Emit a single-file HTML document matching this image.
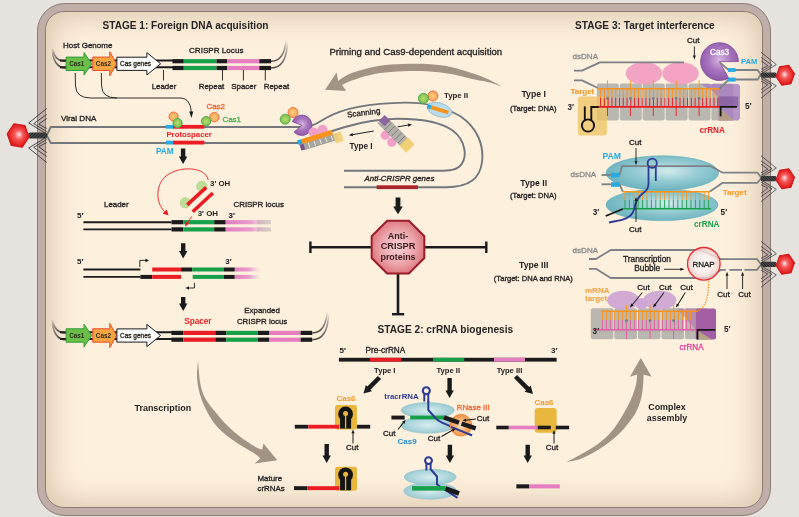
<!DOCTYPE html>
<html><head><meta charset="utf-8"><style>
html,body{margin:0;padding:0;}
body{width:799px;height:517px;overflow:hidden;background:#e6e3df;position:relative;font-family:"Liberation Sans", sans-serif;}
#wall{position:absolute;left:37.2px;top:3px;width:731.8px;height:510.5px;border:1px solid #8c7c74;border-radius:28px;background:#c0aea9;}
#cyto{position:absolute;left:45.4px;top:11px;width:715.3px;height:494.6px;border:1px solid #8c7c74;border-radius:19px;
background:#fdf0dd;
box-shadow: inset 0 0 30px 3px rgba(165,130,95,0.42);}
svg text{font-family:"Liberation Sans", sans-serif;}
</style></head><body>
<div id="wall"></div><div id="cyto"></div>
<svg width="799" height="517" viewBox="0 0 799 517" style="position:absolute;left:0;top:0;will-change:transform">
<defs>
 <radialGradient id="phHead" cx="0.5" cy="0.5" r="0.55" fx="0.55" fy="0.45">
  <stop offset="0" stop-color="#ffe6e6"/><stop offset="0.35" stop-color="#f45a5a"/><stop offset="0.8" stop-color="#e41e1e"/><stop offset="1" stop-color="#c01010"/>
 </radialGradient>
 <pattern id="hatch" width="2.2" height="2.2" patternUnits="userSpaceOnUse" patternTransform="rotate(45)">
  <rect width="2.2" height="2.2" fill="#222"/><rect width="1" height="2.2" fill="#555"/>
 </pattern>
 <radialGradient id="octG" cx="0.5" cy="0.5" r="0.6">
  <stop offset="0" stop-color="#f7d3d6"/><stop offset="0.55" stop-color="#eba4aa"/><stop offset="1" stop-color="#d9646e"/>
 </radialGradient>
 <radialGradient id="cas9G" cx="0.55" cy="0.45" r="0.6">
  <stop offset="0" stop-color="#d4ecee"/><stop offset="0.45" stop-color="#97ccd3"/><stop offset="1" stop-color="#66b0bc"/>
 </radialGradient>
 <radialGradient id="cas9S" cx="0.5" cy="0.5" r="0.6">
  <stop offset="0" stop-color="#d8edf0"/><stop offset="0.6" stop-color="#acd5db"/><stop offset="1" stop-color="#8ec3cc"/>
 </radialGradient>
 <radialGradient id="rnapG" cx="0.5" cy="0.5" r="0.5">
  <stop offset="0" stop-color="#ffffff"/><stop offset="0.6" stop-color="#fbeeee"/><stop offset="1" stop-color="#f2c4c4"/>
 </radialGradient>
 <radialGradient id="purpG" cx="0.5" cy="0.45" r="0.6">
  <stop offset="0" stop-color="#d9b6e2"/><stop offset="0.5" stop-color="#a774bd"/><stop offset="1" stop-color="#8c52a6"/>
 </radialGradient>
 <radialGradient id="rnaseG" cx="0.5" cy="0.5" r="0.55">
  <stop offset="0" stop-color="#fde8d2"/><stop offset="0.5" stop-color="#f5b273"/><stop offset="1" stop-color="#ee8d3c"/>
 </radialGradient>
 <radialGradient id="circO" cx="0.5" cy="0.5" r="0.5">
  <stop offset="0" stop-color="#f8d07a"/><stop offset="1" stop-color="#f4a45a"/>
 </radialGradient>
 <radialGradient id="circG" cx="0.5" cy="0.5" r="0.5">
  <stop offset="0" stop-color="#b9dc6e"/><stop offset="1" stop-color="#7cc04e"/>
 </radialGradient>
 <linearGradient id="fadeUp" x1="0" y1="1" x2="0" y2="0">
  <stop offset="0" stop-color="#4a4440" stop-opacity="1"/><stop offset="0.6" stop-color="#6a6460" stop-opacity="0.6"/><stop offset="1" stop-color="#9a9490" stop-opacity="0"/>
 </linearGradient>
 <linearGradient id="pinkFade" x1="0" y1="0" x2="1" y2="0">
  <stop offset="0" stop-color="#e57dc0"/><stop offset="0.55" stop-color="#ea9ccd"/><stop offset="1" stop-color="#eac4d8" stop-opacity="0"/>
 </linearGradient>
</defs>
<text x="102.5" y="29" font-size="10.1" font-weight="bold" fill="#262322" text-anchor="start" >STAGE 1: Foreign DNA acquisition</text>
<text x="63" y="47.7" font-size="8.0" font-weight="normal" fill="#262322" text-anchor="start" stroke="#262322" stroke-width="0.32" >Host Genome</text>
<text x="189" y="52.8" font-size="8.1" font-weight="normal" fill="#262322" text-anchor="start" stroke="#262322" stroke-width="0.32" >CRISPR Locus</text>
<path d="M53,48.2 Q54,61.2 66,61.2" stroke="url(#fadeUp)" stroke-width="1.6" fill="none" />
<path d="M52,47.2 Q53,68.0 66,68.0" stroke="url(#fadeUp)" stroke-width="1.6" fill="none" />
<line x1="60" y1="60.5" x2="173" y2="60.5" stroke="#1c1a1a" stroke-width="2.0" />
<line x1="60" y1="67.3" x2="173" y2="67.3" stroke="#1c1a1a" stroke-width="2.0" />
<rect x="172.5" y="59.1" width="11.300000000000011" height="4.2" fill="#1c1a1a" />
<rect x="172.5" y="65.9" width="11.300000000000011" height="4.2" fill="#1c1a1a" />
<rect x="183.8" y="59.1" width="32.69999999999999" height="4.2" fill="#17a04a" />
<rect x="183.8" y="65.9" width="32.69999999999999" height="4.2" fill="#17a04a" />
<rect x="216.5" y="59.1" width="10.800000000000011" height="4.2" fill="#1c1a1a" />
<rect x="216.5" y="65.9" width="10.800000000000011" height="4.2" fill="#1c1a1a" />
<rect x="227.3" y="59.1" width="32.0" height="4.2" fill="#e57dc0" />
<rect x="227.3" y="65.9" width="32.0" height="4.2" fill="#e57dc0" />
<rect x="259.3" y="59.1" width="11.699999999999989" height="4.2" fill="#1c1a1a" />
<rect x="259.3" y="65.9" width="11.699999999999989" height="4.2" fill="#1c1a1a" />
<path d="M271,61.2 C279,61.2 285,56.2 286,39.2" stroke="url(#fadeUp)" stroke-width="1.5" fill="none" />
<path d="M271,68.0 C280,68.0 287,61.0 287.5,41.0" stroke="url(#fadeUp)" stroke-width="1.5" fill="none" />
<polygon points="66.1,57.099999999999994 84.0,57.099999999999994 84.0,52.5 91.8,63.8 84.0,75.1 84.0,70.5 66.1,70.5" fill="#6bbf47" stroke="#2e9b3c" stroke-width="1.0" stroke-linejoin="miter"/>
<text x="69.2" y="65.89999999999999" font-size="6.3" font-weight="bold" fill="#2b2a1e" text-anchor="start" >Cas1</text>
<polygon points="92.8,57.099999999999994 109.8,57.099999999999994 109.8,51.8 116.6,63.8 109.8,75.8 109.8,70.5 92.8,70.5" fill="#f6a53f" stroke="#ec4a2c" stroke-width="1.0" stroke-linejoin="miter"/>
<text x="95.8" y="65.89999999999999" font-size="6.4" font-weight="bold" fill="#2b2a1e" text-anchor="start" >Cas2</text>
<polygon points="116.9,57.199999999999996 146.9,57.199999999999996 146.9,52.65 160.6,63.8 146.9,74.95 146.9,70.39999999999999 116.9,70.39999999999999" fill="#ffffff" stroke="#1a1a1a" stroke-width="1.0" stroke-linejoin="miter"/>
<text x="120.0" y="65.89999999999999" font-size="6.5" font-weight="normal" fill="#2b2a1e" text-anchor="start" stroke="#2b2a1e" stroke-width="0.32" >Cas genes</text>
<line x1="163.5" y1="70" x2="163.5" y2="80.5" stroke="#1c1a1a" stroke-width="0.9" />
<line x1="222.5" y1="70" x2="222.5" y2="80.5" stroke="#1c1a1a" stroke-width="0.9" />
<line x1="243.4" y1="70" x2="243.4" y2="80.5" stroke="#1c1a1a" stroke-width="0.9" />
<line x1="265.3" y1="70" x2="265.3" y2="80.5" stroke="#1c1a1a" stroke-width="0.9" />
<text x="164" y="88.8" font-size="7.9" font-weight="normal" fill="#262322" text-anchor="middle" stroke="#262322" stroke-width="0.32" >Leader</text>
<text x="211.5" y="88.8" font-size="7.9" font-weight="normal" fill="#262322" text-anchor="middle" stroke="#262322" stroke-width="0.32" >Repeat</text>
<text x="243.8" y="88.8" font-size="7.9" font-weight="normal" fill="#262322" text-anchor="middle" stroke="#262322" stroke-width="0.32" >Spacer</text>
<text x="276.5" y="88.8" font-size="7.9" font-weight="normal" fill="#262322" text-anchor="middle" stroke="#262322" stroke-width="0.32" >Repeat</text>
<path d="M75.2,73 L75.5,86 Q76,98 91,98 L181,98 Q190.5,98.5 191.3,112" stroke="#1a1a1a" stroke-width="0.9" fill="none" />
<path d="M101.3,73 L101.6,86 Q102,98 117,98" stroke="#1a1a1a" stroke-width="0.9" fill="none" />
<polygon points="189.3,111.5 193.3,111.5 191.4,118" fill="#1a1a1a" stroke="none" stroke-width="1" />
<text x="61" y="121" font-size="8.1" font-weight="normal" fill="#262322" text-anchor="start" stroke="#262322" stroke-width="0.32" >Viral DNA</text>
<path d="M46.7,135.4 L50.8,127 L300,127 C312,127 316,124 326,118 C345,107 372,103 405,102.6 C428,102.4 446,108 460,116 C478,128 484,146 482,162 C480,178 470,187 446,187.3 L344,187.3" stroke="#73777c" stroke-width="1.9" fill="none" stroke-linejoin="round"/>
<path d="M46.7,135.4 L50.8,143 L297,143 C318,137 330,131 345,127 C365,121 380,119 398,118.8 C420,118.8 440,122 452,130 C466,140 468,158 460,166 C455,170.8 448,170.8 430,170.8 L344,170.8" stroke="#73777c" stroke-width="1.9" fill="none" stroke-linejoin="round"/>
<rect x="165.8" y="124.89999999999999" width="7.2" height="3.8" fill="#27aae1" />
<rect x="173" y="124.89999999999999" width="31.4" height="3.8" fill="#ec1c24" />
<rect x="165.8" y="140.7" width="7.2" height="3.8" fill="#27aae1" />
<rect x="173" y="140.7" width="31.4" height="3.8" fill="#ec1c24" />
<text x="166.4" y="136.5" font-size="7.8" font-weight="bold" fill="#ec1c24" text-anchor="start" >Protospacer</text>
<text x="156" y="153.6" font-size="8.2" font-weight="bold" fill="#27aae1" text-anchor="start" >PAM</text>
<circle cx="173.6" cy="116.6" r="4.6" fill="url(#circO)" stroke="#ef6a3a" stroke-width="0.9" />
<circle cx="177.6" cy="123.0" r="4.6" fill="url(#circG)" stroke="#45a94a" stroke-width="0.9" />
<circle cx="214.4" cy="117.2" r="4.7" fill="url(#circO)" stroke="#ef6a3a" stroke-width="0.9" />
<circle cx="206.1" cy="121.2" r="4.7" fill="url(#circG)" stroke="#45a94a" stroke-width="0.9" />
<text x="206.4" y="109" font-size="8.0" font-weight="normal" fill="#f0643c" text-anchor="start" stroke="#f0643c" stroke-width="0.32" >Cas2</text>
<text x="222.4" y="122.4" font-size="8.0" font-weight="normal" fill="#4cb04c" text-anchor="start" stroke="#4cb04c" stroke-width="0.32" >Cas1</text>
<circle cx="293" cy="112.5" r="5" fill="url(#circO)" stroke="#ef6a3a" stroke-width="0.9" />
<circle cx="285.2" cy="119.2" r="5" fill="url(#circG)" stroke="#45a94a" stroke-width="0.9" />
<rect x="376.7" y="185.3" width="41.2" height="3.8" fill="#a8262c" />
<text x="364.6" y="181" font-size="7.9" font-weight="normal" fill="#262322" text-anchor="start" font-style="italic" stroke="#262322" stroke-width="0.32" >Anti-CRISPR genes</text>
<path d="M325,89.8 L336.6,72.4 L338.2,80.9 C339.55,80.00 342.88,77.18 346.30,75.50 C349.72,73.82 353.08,72.42 358.70,70.80 C364.32,69.18 372.62,66.93 380.00,65.80 C387.38,64.67 395.17,64.30 403.00,64.00 C410.83,63.70 419.03,63.52 427.00,64.00 C434.97,64.48 442.87,65.23 450.80,66.90 C458.73,68.57 468.07,71.82 474.60,74.00 C481.13,76.18 485.27,77.78 490.00,80.00 C494.73,82.22 500.83,86.08 503.00,87.30 C500.83,86.52 494.73,83.88 490.00,82.60 C485.27,81.32 481.13,81.03 474.60,79.60 C468.07,78.17 458.73,75.40 450.80,74.00 C442.87,72.60 434.97,71.67 427.00,71.20 C419.03,70.73 410.83,70.88 403.00,71.20 C395.17,71.52 387.38,71.93 380.00,73.10 C372.62,74.27 364.20,76.65 358.70,78.20 C353.20,79.75 349.78,81.25 347.00,82.40 C344.22,83.55 342.83,84.65 342.00,85.10 L346.3,91 Z" stroke="none" stroke-width="0" fill="#a29385" />
<text x="329.4" y="54.6" font-size="9.6" font-weight="normal" fill="#262322" text-anchor="start" stroke="#262322" stroke-width="0.32" >Priming and Cas9-dependent acquisition</text>
<path d="M301.80,125.30 L292.28,121.64 A10.2,10.2 0 1 1 294.10,131.99 Z" stroke="#7d4a96" stroke-width="0.8" fill="url(#purpG)" />
<circle cx="313.5" cy="132.5" r="5" fill="#f0a0c8" stroke="none" stroke-width="1" />
<circle cx="322.5" cy="130" r="5.2" fill="#f0a0c8" stroke="none" stroke-width="1" />
<g transform="translate(302,142.5) rotate(-17)"><rect x="0" y="1.5" width="36" height="6" fill="#a9a7a2" stroke="#8a8680" stroke-width="0.5"/><line x1="6.0" y1="2" x2="6.0" y2="7" stroke="#eeeeea" stroke-width="0.8"/><line x1="12.0" y1="2" x2="12.0" y2="7" stroke="#eeeeea" stroke-width="0.8"/><line x1="18.0" y1="2" x2="18.0" y2="7" stroke="#eeeeea" stroke-width="0.8"/><line x1="24.0" y1="2" x2="24.0" y2="7" stroke="#eeeeea" stroke-width="0.8"/><line x1="30.0" y1="2" x2="30.0" y2="7" stroke="#eeeeea" stroke-width="0.8"/><rect x="0" y="-3.5" width="32" height="5" fill="#f7941d"/><rect x="-4" y="-3.5" width="4" height="5" fill="#27aae1"/><rect x="-3" y="1.5" width="4" height="6" fill="#7a4e8e"/><rect x="32" y="0.6" width="8.5" height="10.2" rx="1" fill="#f0d07a" opacity="0.92"/></g>
<circle cx="385.3" cy="135.2" r="4.6" fill="#f0a0c8" stroke="none" stroke-width="1" />
<circle cx="391.8" cy="142.2" r="4.6" fill="#f0a0c8" stroke="none" stroke-width="1" />
<g transform="translate(381.5,119.5) rotate(45)"><rect x="0" y="-5.2" width="33" height="10.4" fill="#b3b0aa" stroke="#8a8680" stroke-width="0.4"/><line x1="4.714285714285714" y1="-5" x2="4.714285714285714" y2="5" stroke="#6e6a66" stroke-width="0.7"/><line x1="9.428571428571429" y1="-5" x2="9.428571428571429" y2="5" stroke="#6e6a66" stroke-width="0.7"/><line x1="14.142857142857142" y1="-5" x2="14.142857142857142" y2="5" stroke="#6e6a66" stroke-width="0.7"/><line x1="18.857142857142858" y1="-5" x2="18.857142857142858" y2="5" stroke="#6e6a66" stroke-width="0.7"/><line x1="23.571428571428573" y1="-5" x2="23.571428571428573" y2="5" stroke="#6e6a66" stroke-width="0.7"/><line x1="28.285714285714285" y1="-5" x2="28.285714285714285" y2="5" stroke="#6e6a66" stroke-width="0.7"/><rect x="-1" y="-5.4" width="8" height="8" fill="#8a5ea0" opacity="0.9"/><rect x="31" y="-6" width="10" height="12" rx="1" fill="#f0cf70" opacity="0.95"/></g>
<text x="347.5" y="117.4" font-size="8.0" font-weight="normal" fill="#262322" text-anchor="start" stroke="#262322" stroke-width="0.32" transform="rotate(-7 347.5 117.4)">Scanning</text>
<g transform="translate(373.8,131) rotate(170.24)"><line x1="0" y1="0" x2="21.867104683033894" y2="0" stroke="#1a1a1a" stroke-width="0.9"/><polygon points="21.367104683033894,-1.6 25.367104683033894,0 21.367104683033894,1.6" fill="#1a1a1a"/></g>
<g transform="translate(397.6,126.9) rotate(-9.85)"><line x1="0" y1="0" x2="11.11540283399672" y2="0" stroke="#1a1a1a" stroke-width="0.9"/><polygon points="10.61540283399672,-1.6 14.61540283399672,0 10.61540283399672,1.6" fill="#1a1a1a"/></g>
<text x="349.5" y="149" font-size="8.2" font-weight="bold" fill="#262322" text-anchor="start" >Type I</text>
<g transform="translate(439.5,109.8) rotate(17)"><ellipse cx="0" cy="0" rx="12.8" ry="6.8" fill="#b8dcea" stroke="#8fb8cc" stroke-width="0.8"/><rect x="-9.2" y="-1.9" width="18.5" height="3.8" fill="#f7941d"/><rect x="-12.5" y="-2.1" width="3.4" height="4.2" fill="#27aae1"/></g>
<circle cx="432.9" cy="96" r="5.0" fill="url(#circO)" stroke="#ef6a3a" stroke-width="0.9" />
<circle cx="423.4" cy="98.4" r="5.0" fill="url(#circG)" stroke="#45a94a" stroke-width="0.9" />
<text x="444" y="97.6" font-size="7.8" font-weight="bold" fill="#262322" text-anchor="start" >Type II</text>
<polygon points="180.9,148.4 185.29999999999998,148.4 185.29999999999998,156.5 187.29999999999998,156.5 183.1,164.1 178.9,156.5 180.9,156.5" fill="#1a1a1a" stroke="none" stroke-width="1" />
<text x="104" y="206.8" font-size="7.9" font-weight="normal" fill="#262322" text-anchor="start" stroke="#262322" stroke-width="0.32" >Leader</text>
<text x="233.5" y="206.8" font-size="7.9" font-weight="normal" fill="#262322" text-anchor="start" stroke="#262322" stroke-width="0.32" >CRISPR locus</text>
<text x="77" y="217.8" font-size="8" font-weight="bold" fill="#262322" text-anchor="start" >5′</text>
<text x="228.5" y="217.8" font-size="8" font-weight="bold" fill="#262322" text-anchor="start" >3′</text>
<line x1="83.4" y1="222.2" x2="171.5" y2="222.2" stroke="#1c1a1a" stroke-width="1.9" />
<line x1="83.4" y1="229.4" x2="171.5" y2="229.4" stroke="#1c1a1a" stroke-width="1.9" />
<rect x="171.5" y="220.1" width="11.800000000000011" height="4.2" fill="#1c1a1a" />
<rect x="171.5" y="227.3" width="11.800000000000011" height="4.2" fill="#1c1a1a" />
<rect x="183.3" y="220.1" width="30.899999999999977" height="4.2" fill="#17a04a" />
<rect x="183.3" y="227.3" width="30.899999999999977" height="4.2" fill="#17a04a" />
<rect x="214.2" y="220.1" width="11.5" height="4.2" fill="#1c1a1a" />
<rect x="214.2" y="227.3" width="11.5" height="4.2" fill="#1c1a1a" />
<rect x="225.7" y="220.1" width="45" height="4.2" fill="url(#pinkFade)" />
<rect x="257" y="220.1" width="14" height="4.2" fill="#9a8f92" opacity="0.35"/>
<rect x="225.7" y="227.3" width="45" height="4.2" fill="url(#pinkFade)" />
<rect x="257" y="227.3" width="14" height="4.2" fill="#9a8f92" opacity="0.35"/>
<circle cx="185.3" cy="202.7" r="5.2" fill="#bedd96" stroke="#a9cc80" stroke-width="0.6" />
<circle cx="201.8" cy="186.4" r="5.2" fill="#bedd96" stroke="#a9cc80" stroke-width="0.6" />
<line x1="187.2" y1="204.8" x2="206.2" y2="187.4" stroke="#ec1c24" stroke-width="3.6" />
<line x1="192.7" y1="211.8" x2="212.9" y2="193.0" stroke="#ec1c24" stroke-width="3.6" />
<text x="210" y="186.2" font-size="7.9" font-weight="bold" fill="#262322" text-anchor="start" >3′ OH</text>
<text x="197.7" y="216.4" font-size="7.9" font-weight="bold" fill="#262322" text-anchor="start" >3′ OH</text>
<path d="M208.2,180 C206,167 180,165 166,176 C156,184 155,202 164.5,211.5" stroke="#ec1c24" stroke-width="0.9" fill="none" />
<polygon points="162.6,213.6 166.8,209.4 168.6,215.4" fill="#ec1c24" stroke="none" stroke-width="1" />
<path d="M191.8,216.4 L187.2,223.4" stroke="#ec1c24" stroke-width="0.9" fill="none" />
<polygon points="185.2,221.5 189.2,223.5 185.2,226.6" fill="#ec1c24" stroke="none" stroke-width="1" />
<polygon points="181.0,243.3 185.39999999999998,243.3 185.39999999999998,250.9 187.39999999999998,250.9 183.2,258.5 179.0,250.9 181.0,250.9" fill="#1a1a1a" stroke="none" stroke-width="1" />
<text x="77" y="263.9" font-size="8" font-weight="bold" fill="#262322" text-anchor="start" >5′</text>
<text x="225.2" y="263.9" font-size="8" font-weight="bold" fill="#262322" text-anchor="start" >3′</text>
<line x1="83.4" y1="269.5" x2="140.4" y2="269.5" stroke="#1c1a1a" stroke-width="1.9" />
<line x1="83.4" y1="276.9" x2="140.4" y2="276.9" stroke="#1c1a1a" stroke-width="1.9" />
<rect x="152.2" y="267.5" width="28.900000000000006" height="4.0" fill="#ec1c24" />
<rect x="181.1" y="267.5" width="11.099999999999994" height="4.0" fill="#1c1a1a" />
<rect x="192.2" y="267.5" width="31.600000000000023" height="4.0" fill="#17a04a" />
<rect x="223.8" y="267.5" width="11.0" height="4.0" fill="#1c1a1a" />
<rect x="140.4" y="274.9" width="11.799999999999983" height="4.0" fill="#1c1a1a" />
<rect x="152.2" y="274.9" width="28.900000000000006" height="4.0" fill="#ec1c24" />
<rect x="192.7" y="274.9" width="31.100000000000023" height="4.0" fill="#17a04a" />
<rect x="223.8" y="274.9" width="11.0" height="4.0" fill="#1c1a1a" />
<rect x="234.8" y="267.5" width="26" height="4.0" fill="url(#pinkFade)" />
<rect x="234.8" y="274.9" width="26" height="4.0" fill="url(#pinkFade)" />
<path d="M139.8,267 L139.8,260.4 L146,260.4" stroke="#1a1a1a" stroke-width="0.9" fill="none" />
<polygon points="145.5,258.6 149,260.4 145.5,262.2" fill="#1a1a1a" stroke="none" stroke-width="1" />
<path d="M194.4,282.8 L194.4,288 L188.5,288" stroke="#1a1a1a" stroke-width="0.9" fill="none" />
<polygon points="189,286.2 185.5,288 189,289.8" fill="#1a1a1a" stroke="none" stroke-width="1" />
<polygon points="181.0,297 185.39999999999998,297 185.39999999999998,303.4 187.39999999999998,303.4 183.2,311 179.0,303.4 181.0,303.4" fill="#1a1a1a" stroke="none" stroke-width="1" />
<path d="M53,319.9 Q54,332.9 66,332.9" stroke="url(#fadeUp)" stroke-width="1.6" fill="none" />
<path d="M52,318.9 Q53,339.7 66,339.7" stroke="url(#fadeUp)" stroke-width="1.6" fill="none" />
<line x1="60" y1="332.2" x2="173" y2="332.2" stroke="#1c1a1a" stroke-width="2.0" />
<line x1="60" y1="339.0" x2="173" y2="339.0" stroke="#1c1a1a" stroke-width="2.0" />
<rect x="171.4" y="330.79999999999995" width="12.0" height="4.2" fill="#1c1a1a" />
<rect x="171.4" y="337.59999999999997" width="12.0" height="4.2" fill="#1c1a1a" />
<rect x="183.4" y="330.79999999999995" width="31.900000000000006" height="4.2" fill="#ec1c24" />
<rect x="183.4" y="337.59999999999997" width="31.900000000000006" height="4.2" fill="#ec1c24" />
<rect x="215.3" y="330.79999999999995" width="10.899999999999977" height="4.2" fill="#1c1a1a" />
<rect x="215.3" y="337.59999999999997" width="10.899999999999977" height="4.2" fill="#1c1a1a" />
<rect x="226.2" y="330.79999999999995" width="31.600000000000023" height="4.2" fill="#17a04a" />
<rect x="226.2" y="337.59999999999997" width="31.600000000000023" height="4.2" fill="#17a04a" />
<rect x="257.8" y="330.79999999999995" width="11.599999999999966" height="4.2" fill="#1c1a1a" />
<rect x="257.8" y="337.59999999999997" width="11.599999999999966" height="4.2" fill="#1c1a1a" />
<rect x="269.4" y="330.79999999999995" width="31.200000000000045" height="4.2" fill="#e57dc0" />
<rect x="269.4" y="337.59999999999997" width="31.200000000000045" height="4.2" fill="#e57dc0" />
<rect x="300.6" y="330.79999999999995" width="11.599999999999966" height="4.2" fill="#1c1a1a" />
<rect x="300.6" y="337.59999999999997" width="11.599999999999966" height="4.2" fill="#1c1a1a" />
<path d="M312.2,332.9 C320.2,332.9 326.2,327.9 327.2,310.9" stroke="url(#fadeUp)" stroke-width="1.5" fill="none" />
<path d="M312.2,339.7 C321.2,339.7 328.2,332.7 328.7,312.7" stroke="url(#fadeUp)" stroke-width="1.5" fill="none" />
<polygon points="66.1,328.8 84.0,328.8 84.0,324.2 91.8,335.5 84.0,346.8 84.0,342.2 66.1,342.2" fill="#6bbf47" stroke="#2e9b3c" stroke-width="1.0" stroke-linejoin="miter"/>
<text x="69.2" y="337.6" font-size="6.3" font-weight="bold" fill="#2b2a1e" text-anchor="start" >Cas1</text>
<polygon points="92.8,328.8 109.8,328.8 109.8,323.5 116.6,335.5 109.8,347.5 109.8,342.2 92.8,342.2" fill="#f6a53f" stroke="#ec4a2c" stroke-width="1.0" stroke-linejoin="miter"/>
<text x="95.8" y="337.6" font-size="6.4" font-weight="bold" fill="#2b2a1e" text-anchor="start" >Cas2</text>
<polygon points="116.9,328.9 146.9,328.9 146.9,324.35 160.6,335.5 146.9,346.65 146.9,342.1 116.9,342.1" fill="#ffffff" stroke="#1a1a1a" stroke-width="1.0" stroke-linejoin="miter"/>
<text x="120.0" y="337.6" font-size="6.5" font-weight="normal" fill="#2b2a1e" text-anchor="start" stroke="#2b2a1e" stroke-width="0.32" >Cas genes</text>
<text x="197.9" y="323.6" font-size="8.2" font-weight="bold" fill="#ec1c24" text-anchor="middle" >Spacer</text>
<text x="262.1" y="312.7" font-size="7.9" font-weight="normal" fill="#262322" text-anchor="middle" stroke="#262322" stroke-width="0.32" >Expanded</text>
<text x="262.1" y="323.6" font-size="7.9" font-weight="normal" fill="#262322" text-anchor="middle" stroke="#262322" stroke-width="0.32" >CRISPR locus</text>
<path d="M198.1,360.8 C198.22,362.33 198.53,366.80 198.80,370.00 C199.07,373.20 199.20,376.67 199.70,380.00 C200.20,383.33 200.87,386.92 201.80,390.00 C202.73,393.08 203.83,395.80 205.30,398.50 C206.77,401.20 208.65,403.62 210.60,406.20 C212.55,408.78 214.68,411.23 217.00,414.00 C219.32,416.77 221.67,419.83 224.50,422.80 C227.33,425.77 230.53,428.83 234.00,431.80 C237.47,434.77 241.53,437.97 245.30,440.60 C249.07,443.23 253.78,446.08 256.60,447.60 C259.42,449.12 261.27,449.35 262.20,449.70 L263.5,443.4 L277.3,460.3 L254.7,463.5 L260.3,458.5 C259.47,457.75 258.23,456.00 255.30,454.00 C252.37,452.00 246.88,449.12 242.70,446.50 C238.52,443.88 234.07,441.17 230.20,438.30 C226.33,435.43 222.57,432.38 219.50,429.30 C216.43,426.22 214.05,423.10 211.80,419.80 C209.55,416.50 207.70,412.88 206.00,409.50 C204.30,406.12 202.83,402.92 201.60,399.50 C200.37,396.08 199.35,392.50 198.60,389.00 C197.85,385.50 197.32,381.92 197.10,378.50 C196.88,375.08 197.13,371.45 197.30,368.50 C197.47,365.55 197.97,362.08 198.10,360.80 Z" stroke="none" stroke-width="0" fill="#a29385" />
<text x="134.5" y="410.7" font-size="8.95" font-weight="bold" fill="#262322" text-anchor="start" >Transcription</text>
<polygon points="395.6,197.6 400.4,197.6 400.4,206.5 402.8,206.5 398,214.3 393.2,206.5 395.6,206.5" fill="#1a1a1a" stroke="none" stroke-width="1" />
<line x1="310" y1="247.2" x2="371" y2="247.2" stroke="#1a1a1a" stroke-width="2.6" />
<line x1="425" y1="247.2" x2="486.7" y2="247.2" stroke="#1a1a1a" stroke-width="2.6" />
<line x1="310.4" y1="241.5" x2="310.4" y2="253" stroke="#1a1a1a" stroke-width="2.4" />
<line x1="486.3" y1="241.5" x2="486.3" y2="253" stroke="#1a1a1a" stroke-width="2.4" />
<line x1="398" y1="273" x2="398" y2="314" stroke="#1a1a1a" stroke-width="2.6" />
<line x1="392" y1="314.2" x2="404.2" y2="314.2" stroke="#1a1a1a" stroke-width="2.4" />
<polygon points="424.33056667657166,258.00647782240503 408.90647782240507,273.4305666765717 387.09352217759493,273.4305666765717 371.66943332342834,258.00647782240503 371.66943332342834,236.19352217759493 387.09352217759493,220.76943332342833 408.90647782240507,220.76943332342833 424.33056667657166,236.19352217759493" fill="url(#octG)" stroke="#9a1e2a" stroke-width="2.0" />
<text x="398" y="238.8" font-size="9.0" font-weight="bold" fill="#3a1a1c" text-anchor="middle" >Anti-</text>
<text x="398" y="248.9" font-size="9.2" font-weight="bold" fill="#3a1a1c" text-anchor="middle" >CRISPR</text>
<text x="398" y="259.6" font-size="8.9" font-weight="bold" fill="#3a1a1c" text-anchor="middle" >proteins</text>
<text x="377.6" y="333.4" font-size="10.15" font-weight="bold" fill="#262322" text-anchor="start" >STAGE 2: crRNA biogenesis</text>
<rect x="338.9" y="357.8" width="217.7" height="3.8" fill="#1c1a1a" />
<rect x="369.8" y="357.8" width="31.6" height="3.8" fill="#ec1c24" />
<rect x="433.0" y="357.8" width="31.2" height="3.8" fill="#17a04a" />
<rect x="494.0" y="357.8" width="31.0" height="3.8" fill="#e57dc0" />
<text x="339.5" y="353" font-size="8" font-weight="bold" fill="#262322" text-anchor="start" >5′</text>
<text x="551" y="353" font-size="8" font-weight="bold" fill="#262322" text-anchor="start" >3′</text>
<text x="365.6" y="353" font-size="8.2" font-weight="normal" fill="#262322" text-anchor="start" stroke="#262322" stroke-width="0.32" >Pre-crRNA</text>
<text x="384.8" y="372.8" font-size="7.6" font-weight="bold" fill="#262322" text-anchor="middle" >Type I</text>
<text x="448.3" y="372.8" font-size="7.6" font-weight="bold" fill="#262322" text-anchor="middle" >Type II</text>
<text x="509.5" y="372.8" font-size="7.6" font-weight="bold" fill="#262322" text-anchor="middle" >Type III</text>
<polygon points="0.00,-2.20 15.03,-2.20 15.03,-4.30 22.63,0.00 15.03,4.30 15.03,2.20 0.00,2.20" fill="#1a1a1a" transform="translate(379.5,377.5) rotate(135.00)"/>
<polygon points="447.40000000000003,378 451.8,378 451.8,390.4 453.8,390.4 449.6,398 445.40000000000003,390.4 447.40000000000003,390.4" fill="#1a1a1a" stroke="none" stroke-width="1" />
<polygon points="0.00,-2.20 17.15,-2.20 17.15,-4.30 24.75,0.00 17.15,4.30 17.15,2.20 0.00,2.20" fill="#1a1a1a" transform="translate(515.5,376.5) rotate(45.00)"/>
<text x="346" y="401.4" font-size="8.0" font-weight="bold" fill="#f09a2a" text-anchor="middle" >Cas6</text>
<rect x="335" y="405" width="22" height="24.5" fill="#e9b73e" rx="2.5"/>
<rect x="294.8" y="424.8" width="13.5" height="3.8" fill="#1c1a1a" />
<rect x="308.3" y="424.8" width="31" height="3.8" fill="#ec1c24" />
<rect x="357" y="424.8" width="13.2" height="3.8" fill="#1c1a1a" />
<circle cx="345.6" cy="414" r="7.4" fill="#141414" stroke="none" stroke-width="1" />
<rect x="340.1" y="414" width="11" height="14.600000000000023" fill="#141414" />
<circle cx="345.6" cy="413.5" r="2.5" fill="#e9b73e" stroke="none" stroke-width="1" />
<rect x="344.95000000000005" y="414" width="1.3" height="14.400000000000023" fill="#e9b73e" />
<text x="352.3" y="450.4" font-size="8.0" font-weight="normal" fill="#262322" text-anchor="middle" stroke="#262322" stroke-width="0.32" >Cut</text>
<g transform="translate(353,443.5) rotate(-90.00)"><line x1="0" y1="0" x2="10.7" y2="0" stroke="#1a1a1a" stroke-width="1.0"/><polygon points="10.2,-1.6 14.0,0 10.2,1.6" fill="#1a1a1a"/></g>
<polygon points="324.5,444 328.9,444 328.9,455.4 330.9,455.4 326.7,463 322.5,455.4 324.5,455.4" fill="#1a1a1a" stroke="none" stroke-width="1" />
<rect x="335" y="466.8" width="22" height="24" fill="#e9b73e" rx="2.5"/>
<rect x="294" y="486.2" width="13.3" height="3.9" fill="#1c1a1a" />
<rect x="307.3" y="486.2" width="32" height="3.9" fill="#ec1c24" />
<circle cx="345.6" cy="474.8" r="7.4" fill="#141414" stroke="none" stroke-width="1" />
<rect x="340.1" y="474.8" width="11" height="15.5" fill="#141414" />
<circle cx="345.6" cy="474.3" r="2.5" fill="#e9b73e" stroke="none" stroke-width="1" />
<rect x="344.95000000000005" y="474.8" width="1.3" height="15.3" fill="#e9b73e" />
<text x="257.5" y="481" font-size="7.9" font-weight="normal" fill="#262322" text-anchor="start" stroke="#262322" stroke-width="0.32" >Mature</text>
<text x="257.5" y="490.7" font-size="7.9" font-weight="normal" fill="#262322" text-anchor="start" stroke="#262322" stroke-width="0.32" >crRNAs</text>
<ellipse cx="427.8" cy="425.0" rx="27" ry="8.2" fill="url(#cas9S)" stroke="#8fc0c9" stroke-width="0.6" />
<ellipse cx="427.8" cy="410.3" rx="26.5" ry="7.699999999999999" fill="url(#cas9S)" stroke="#8fc0c9" stroke-width="0.6" />
<rect x="391.4" y="415.6" width="13.3" height="3.9" fill="#1c1a1a" />
<rect x="410.2" y="415.6" width="33.9" height="3.8" fill="#17a04a" />
<path d="M428.3,401 L428.3,410 L435.5,418.2 Q438,421 442,422.6 L472,435.4" stroke="#2b3a94" stroke-width="2.0" fill="none" stroke-linejoin="round"/>
<circle cx="426.3" cy="390.8" r="3.5" fill="none" stroke="#2b3a94" stroke-width="2.1" />
<line x1="424.3" y1="393.8" x2="424.3" y2="401.5" stroke="#2b3a94" stroke-width="2.0" />
<line x1="428.3" y1="393.8" x2="428.3" y2="402" stroke="#2b3a94" stroke-width="2.0" />
<circle cx="461" cy="425.2" r="10.9" fill="url(#rnaseG)" stroke="#e8843a" stroke-width="0.6" />
<line x1="444" y1="417.4" x2="459" y2="422.6" stroke="#1c1a1a" stroke-width="4.6" />
<line x1="461.5" y1="423.6" x2="475.7" y2="428.4" stroke="#1c1a1a" stroke-width="4.6" />
<line x1="451" y1="426.9" x2="472" y2="435.4" stroke="#2b3a94" stroke-width="2.0" />
<text x="456.7" y="409.6" font-size="7.9" font-weight="normal" fill="#f06a3a" text-anchor="start" stroke="#f06a3a" stroke-width="0.32" >RNase III</text>
<text x="476.8" y="420.7" font-size="8.0" font-weight="normal" fill="#262322" text-anchor="start" stroke="#262322" stroke-width="0.32" >Cut</text>
<g transform="translate(476,419) rotate(173.66)"><line x1="0" y1="0" x2="10.483077707206125" y2="0" stroke="#1a1a1a" stroke-width="1.0"/><polygon points="9.983077707206125,-1.6 13.583077707206124,0 9.983077707206125,1.6" fill="#1a1a1a"/></g>
<text x="427.8" y="441" font-size="8.0" font-weight="normal" fill="#262322" text-anchor="start" stroke="#262322" stroke-width="0.32" >Cut</text>
<g transform="translate(441.5,436.5) rotate(-29.74)"><line x1="0" y1="0" x2="13.024515496597099" y2="0" stroke="#1a1a1a" stroke-width="1.0"/><polygon points="12.524515496597099,-1.6 16.1245154965971,0 12.524515496597099,1.6" fill="#1a1a1a"/></g>
<text x="383" y="435.8" font-size="8.0" font-weight="normal" fill="#262322" text-anchor="start" stroke="#262322" stroke-width="0.32" >Cut</text>
<g transform="translate(398,429.5) rotate(-51.34)"><line x1="0" y1="0" x2="9.065936051122428" y2="0" stroke="#1a1a1a" stroke-width="1.0"/><polygon points="8.565936051122428,-1.6 12.165936051122427,0 8.565936051122428,1.6" fill="#1a1a1a"/></g>
<text x="384.3" y="398.8" font-size="7.8" font-weight="bold" fill="#2b3a94" text-anchor="start" >tracrRNA</text>
<text x="397.6" y="444" font-size="8.0" font-weight="bold" fill="#2a8fd0" text-anchor="start" >Cas9</text>
<polygon points="447.7,444.8 452.09999999999997,444.8 452.09999999999997,455.4 454.09999999999997,455.4 449.9,463 445.7,455.4 447.7,455.4" fill="#1a1a1a" stroke="none" stroke-width="1" />
<ellipse cx="430.2" cy="491" rx="26.5" ry="8.2" fill="url(#cas9S)" stroke="#8fc0c9" stroke-width="0.6" />
<ellipse cx="430.2" cy="477" rx="26.0" ry="7.699999999999999" fill="url(#cas9S)" stroke="#8fc0c9" stroke-width="0.6" />
<path d="M430.9,469.5 L437,476.5 L437,484.5 L457.5,497.8" stroke="#2b3a94" stroke-width="2.0" fill="none" stroke-linejoin="round"/>
<rect x="412.1" y="486.1" width="33.7" height="4.5" fill="#17a04a" />
<circle cx="428.5" cy="460.6" r="3.4" fill="none" stroke="#2b3a94" stroke-width="2.1" />
<line x1="426.4" y1="463.4" x2="426.4" y2="470.5" stroke="#2b3a94" stroke-width="2.0" />
<line x1="430.6" y1="463.4" x2="430.6" y2="470" stroke="#2b3a94" stroke-width="2.0" />
<line x1="445.5" y1="488.4" x2="459" y2="493.6" stroke="#1c1a1a" stroke-width="4.8" />
<text x="544" y="405.1" font-size="8.0" font-weight="bold" fill="#f09a2a" text-anchor="middle" >Cas6</text>
<rect x="534.7" y="408.1" width="22" height="24.7" fill="#e9b73e" rx="3"/>
<rect x="496.3" y="425.7" width="12.5" height="3.6" fill="#1c1a1a" />
<rect x="508.8" y="425.7" width="28.9" height="3.6" fill="#e57dc0" />
<rect x="537.7" y="425.7" width="13.1" height="3.6" fill="#1c1a1a" />
<rect x="555.8" y="425.7" width="13.3" height="3.6" fill="#1c1a1a" />
<text x="552" y="450.4" font-size="8.0" font-weight="normal" fill="#262322" text-anchor="middle" stroke="#262322" stroke-width="0.32" >Cut</text>
<g transform="translate(554,443.5) rotate(-90.00)"><line x1="0" y1="0" x2="10.2" y2="0" stroke="#1a1a1a" stroke-width="1.0"/><polygon points="9.7,-1.6 13.5,0 9.7,1.6" fill="#1a1a1a"/></g>
<polygon points="525.5,444.8 529.9000000000001,444.8 529.9000000000001,455.4 531.9000000000001,455.4 527.7,463 523.5,455.4 525.5,455.4" fill="#1a1a1a" stroke="none" stroke-width="1" />
<rect x="516.4" y="484.3" width="12.6" height="4.1" fill="#1c1a1a" />
<rect x="529" y="484.3" width="30.8" height="4.1" fill="#e57dc0" />
<path d="M565.8,462.3 C567.17,461.62 570.72,459.95 574.00,458.20 C577.28,456.45 581.45,454.22 585.50,451.80 C589.55,449.38 594.22,446.80 598.30,443.70 C602.38,440.60 606.63,436.82 610.00,433.20 C613.37,429.58 616.00,425.70 618.50,422.00 C621.00,418.30 623.05,414.50 625.00,411.00 C626.95,407.50 628.73,404.17 630.20,401.00 C631.67,397.83 632.80,394.92 633.80,392.00 C634.80,389.08 635.63,386.43 636.20,383.50 C636.77,380.57 637.03,375.92 637.20,374.40 L629.9,376.8 L640.8,357.9 L651.6,376.8 L643.5,374.4 C643.45,375.97 643.45,380.53 643.20,383.80 C642.95,387.07 642.62,390.63 642.00,394.00 C641.38,397.37 640.67,400.67 639.50,404.00 C638.33,407.33 636.83,410.83 635.00,414.00 C633.17,417.17 630.93,419.92 628.50,423.00 C626.07,426.08 623.68,429.25 620.40,432.50 C617.12,435.75 613.07,439.28 608.80,442.50 C604.53,445.72 599.45,449.08 594.80,451.80 C590.15,454.52 585.73,457.05 580.90,458.80 C576.07,460.55 568.32,461.72 565.80,462.30 Z" stroke="none" stroke-width="0" fill="#a29385" />
<text x="667" y="410" font-size="8.9" font-weight="bold" fill="#262322" text-anchor="middle" >Complex</text>
<text x="667" y="420.5" font-size="8.9" font-weight="bold" fill="#262322" text-anchor="middle" >assembly</text>
<text x="575" y="29" font-size="10.15" font-weight="bold" fill="#262322" text-anchor="start" >STAGE 3: Target interference</text>
<text x="533.7" y="96.7" font-size="8.7" font-weight="bold" fill="#262322" text-anchor="middle" >Type I</text>
<text x="533.3" y="110.7" font-size="7.6" font-weight="normal" fill="#262322" text-anchor="middle" stroke="#262322" stroke-width="0.32" >(Target: DNA)</text>
<text x="533.7" y="186.2" font-size="8.7" font-weight="bold" fill="#262322" text-anchor="middle" >Type II</text>
<text x="533.3" y="197.8" font-size="7.6" font-weight="normal" fill="#262322" text-anchor="middle" stroke="#262322" stroke-width="0.32" >(Target: DNA)</text>
<text x="533.7" y="267.8" font-size="8.7" font-weight="bold" fill="#262322" text-anchor="middle" >Type III</text>
<text x="533.3" y="280.8" font-size="7.6" font-weight="normal" fill="#262322" text-anchor="middle" stroke="#262322" stroke-width="0.32" >(Target: DNA and RNA)</text>
<text x="572.4" y="58.6" font-size="8.1" font-weight="normal" fill="#8c8c8c" text-anchor="start" stroke="#8c8c8c" stroke-width="0.32" >dsDNA</text>
<rect x="596.9" y="83.5" width="22.0" height="37" fill="#bab7b0" rx="2"/>
<line x1="596.9" y1="107" x2="618.9" y2="107" stroke="#a8a59e" stroke-width="0.6" />
<rect x="619.8" y="83.5" width="22.0" height="37" fill="#bab7b0" rx="2"/>
<line x1="619.8" y1="107" x2="641.8" y2="107" stroke="#a8a59e" stroke-width="0.6" />
<rect x="642.6999999999999" y="83.5" width="22.0" height="37" fill="#bab7b0" rx="2"/>
<line x1="642.6999999999999" y1="107" x2="664.6999999999999" y2="107" stroke="#a8a59e" stroke-width="0.6" />
<rect x="665.5999999999999" y="83.5" width="22.0" height="37" fill="#bab7b0" rx="2"/>
<line x1="665.5999999999999" y1="107" x2="687.5999999999999" y2="107" stroke="#a8a59e" stroke-width="0.6" />
<rect x="688.5" y="83.5" width="22.0" height="37" fill="#bab7b0" rx="2"/>
<line x1="688.5" y1="107" x2="710.5" y2="107" stroke="#a8a59e" stroke-width="0.6" />
<rect x="711.4" y="83.5" width="22.0" height="37" fill="#bab7b0" rx="2"/>
<line x1="711.4" y1="107" x2="733.4" y2="107" stroke="#a8a59e" stroke-width="0.6" />
<rect x="577.8" y="96.6" width="29.2" height="39" fill="#eec465" rx="3" opacity="0.78"/>
<polygon points="700,84 738,84 740,86 740,118.5 738,120.5 718.5,120.5 718.5,97 712,90.5" fill="#a47cc2" stroke="none" stroke-width="0" opacity="0.78"/>
<rect x="718.3" y="96.4" width="20" height="10.6" fill="#74498e" opacity="0.55"/>
<polygon points="718.5,107 718.5,120.5 734,120.5" fill="#b6a07e" stroke="none" stroke-width="0" opacity="0.9"/>
<ellipse cx="644" cy="73.4" rx="18.2" ry="11.2" fill="#f29ec2" stroke="none" stroke-width="0" opacity="0.95"/>
<ellipse cx="680.5" cy="73.4" rx="18.2" ry="11.2" fill="#f29ec2" stroke="none" stroke-width="0" opacity="0.95"/>
<path d="M574,70.6 L582,70.6 L600,62.4 L684,62.4" stroke="#7d8085" stroke-width="1.8" fill="none" stroke-linejoin="round"/>
<path d="M574,80.4 L582,80.4 L598,88" stroke="#7d8085" stroke-width="1.8" fill="none" stroke-linejoin="round"/>
<line x1="597" y1="88.7" x2="719.6" y2="88.7" stroke="#f7941d" stroke-width="1.5" />
<line x1="597" y1="106.9" x2="720.6" y2="106.9" stroke="#ec1c24" stroke-width="1.6" />
<line x1="600.6" y1="88.8" x2="600.6" y2="97.8" stroke="#f7941d" stroke-width="1.0" />
<line x1="600.6" y1="97.8" x2="600.6" y2="106.9" stroke="#ec1c24" stroke-width="1.0" />
<line x1="604.38" y1="88.8" x2="604.38" y2="97.8" stroke="#f7941d" stroke-width="1.0" />
<line x1="604.38" y1="97.8" x2="604.38" y2="106.9" stroke="#ec1c24" stroke-width="1.0" />
<line x1="608.16" y1="88.8" x2="608.16" y2="97.8" stroke="#f7941d" stroke-width="1.0" />
<line x1="608.16" y1="97.8" x2="608.16" y2="106.9" stroke="#ec1c24" stroke-width="1.0" />
<line x1="611.94" y1="88.8" x2="611.94" y2="97.8" stroke="#f7941d" stroke-width="1.0" />
<line x1="611.94" y1="97.8" x2="611.94" y2="106.9" stroke="#ec1c24" stroke-width="1.0" />
<line x1="615.72" y1="88.8" x2="615.72" y2="97.8" stroke="#f7941d" stroke-width="1.0" />
<line x1="615.72" y1="97.8" x2="615.72" y2="106.9" stroke="#ec1c24" stroke-width="1.0" />
<line x1="619.5" y1="88.8" x2="619.5" y2="97.8" stroke="#f7941d" stroke-width="1.0" />
<line x1="619.5" y1="97.8" x2="619.5" y2="106.9" stroke="#ec1c24" stroke-width="1.0" />
<line x1="623.28" y1="88.8" x2="623.28" y2="97.8" stroke="#f7941d" stroke-width="1.0" />
<line x1="623.28" y1="97.8" x2="623.28" y2="106.9" stroke="#ec1c24" stroke-width="1.0" />
<line x1="627.0600000000001" y1="88.8" x2="627.0600000000001" y2="97.8" stroke="#f7941d" stroke-width="1.0" />
<line x1="627.0600000000001" y1="97.8" x2="627.0600000000001" y2="106.9" stroke="#ec1c24" stroke-width="1.0" />
<line x1="630.84" y1="88.8" x2="630.84" y2="97.8" stroke="#f7941d" stroke-width="1.0" />
<line x1="630.84" y1="97.8" x2="630.84" y2="106.9" stroke="#ec1c24" stroke-width="1.0" />
<line x1="634.62" y1="88.8" x2="634.62" y2="97.8" stroke="#f7941d" stroke-width="1.0" />
<line x1="634.62" y1="97.8" x2="634.62" y2="106.9" stroke="#ec1c24" stroke-width="1.0" />
<line x1="638.4" y1="88.8" x2="638.4" y2="97.8" stroke="#f7941d" stroke-width="1.0" />
<line x1="638.4" y1="97.8" x2="638.4" y2="106.9" stroke="#ec1c24" stroke-width="1.0" />
<line x1="642.1800000000001" y1="88.8" x2="642.1800000000001" y2="97.8" stroke="#f7941d" stroke-width="1.0" />
<line x1="642.1800000000001" y1="97.8" x2="642.1800000000001" y2="106.9" stroke="#ec1c24" stroke-width="1.0" />
<line x1="645.96" y1="88.8" x2="645.96" y2="97.8" stroke="#f7941d" stroke-width="1.0" />
<line x1="645.96" y1="97.8" x2="645.96" y2="106.9" stroke="#ec1c24" stroke-width="1.0" />
<line x1="649.74" y1="88.8" x2="649.74" y2="97.8" stroke="#f7941d" stroke-width="1.0" />
<line x1="649.74" y1="97.8" x2="649.74" y2="106.9" stroke="#ec1c24" stroke-width="1.0" />
<line x1="653.52" y1="88.8" x2="653.52" y2="97.8" stroke="#f7941d" stroke-width="1.0" />
<line x1="653.52" y1="97.8" x2="653.52" y2="106.9" stroke="#ec1c24" stroke-width="1.0" />
<line x1="657.3000000000001" y1="88.8" x2="657.3000000000001" y2="97.8" stroke="#f7941d" stroke-width="1.0" />
<line x1="657.3000000000001" y1="97.8" x2="657.3000000000001" y2="106.9" stroke="#ec1c24" stroke-width="1.0" />
<line x1="661.08" y1="88.8" x2="661.08" y2="97.8" stroke="#f7941d" stroke-width="1.0" />
<line x1="661.08" y1="97.8" x2="661.08" y2="106.9" stroke="#ec1c24" stroke-width="1.0" />
<line x1="664.86" y1="88.8" x2="664.86" y2="97.8" stroke="#f7941d" stroke-width="1.0" />
<line x1="664.86" y1="97.8" x2="664.86" y2="106.9" stroke="#ec1c24" stroke-width="1.0" />
<line x1="668.64" y1="88.8" x2="668.64" y2="97.8" stroke="#f7941d" stroke-width="1.0" />
<line x1="668.64" y1="97.8" x2="668.64" y2="106.9" stroke="#ec1c24" stroke-width="1.0" />
<line x1="672.4200000000001" y1="88.8" x2="672.4200000000001" y2="97.8" stroke="#f7941d" stroke-width="1.0" />
<line x1="672.4200000000001" y1="97.8" x2="672.4200000000001" y2="106.9" stroke="#ec1c24" stroke-width="1.0" />
<line x1="676.2" y1="88.8" x2="676.2" y2="97.8" stroke="#f7941d" stroke-width="1.0" />
<line x1="676.2" y1="97.8" x2="676.2" y2="106.9" stroke="#ec1c24" stroke-width="1.0" />
<line x1="679.98" y1="88.8" x2="679.98" y2="97.8" stroke="#f7941d" stroke-width="1.0" />
<line x1="679.98" y1="97.8" x2="679.98" y2="106.9" stroke="#ec1c24" stroke-width="1.0" />
<line x1="683.76" y1="88.8" x2="683.76" y2="97.8" stroke="#f7941d" stroke-width="1.0" />
<line x1="683.76" y1="97.8" x2="683.76" y2="106.9" stroke="#ec1c24" stroke-width="1.0" />
<line x1="687.54" y1="88.8" x2="687.54" y2="97.8" stroke="#f7941d" stroke-width="1.0" />
<line x1="687.54" y1="97.8" x2="687.54" y2="106.9" stroke="#ec1c24" stroke-width="1.0" />
<line x1="691.32" y1="88.8" x2="691.32" y2="97.8" stroke="#f7941d" stroke-width="1.0" />
<line x1="691.32" y1="97.8" x2="691.32" y2="106.9" stroke="#ec1c24" stroke-width="1.0" />
<line x1="695.1" y1="88.8" x2="695.1" y2="97.8" stroke="#f7941d" stroke-width="1.0" />
<line x1="695.1" y1="97.8" x2="695.1" y2="106.9" stroke="#ec1c24" stroke-width="1.0" />
<line x1="698.88" y1="88.8" x2="698.88" y2="97.8" stroke="#f7941d" stroke-width="1.0" />
<line x1="698.88" y1="97.8" x2="698.88" y2="106.9" stroke="#ec1c24" stroke-width="1.0" />
<line x1="702.66" y1="88.8" x2="702.66" y2="97.8" stroke="#f7941d" stroke-width="1.0" />
<line x1="702.66" y1="97.8" x2="702.66" y2="106.9" stroke="#ec1c24" stroke-width="1.0" />
<line x1="706.44" y1="88.8" x2="706.44" y2="97.8" stroke="#f7941d" stroke-width="1.0" />
<line x1="706.44" y1="97.8" x2="706.44" y2="106.9" stroke="#ec1c24" stroke-width="1.0" />
<line x1="710.22" y1="88.8" x2="710.22" y2="97.8" stroke="#f7941d" stroke-width="1.0" />
<line x1="710.22" y1="97.8" x2="710.22" y2="106.9" stroke="#ec1c24" stroke-width="1.0" />
<line x1="714.0" y1="88.8" x2="714.0" y2="97.8" stroke="#f7941d" stroke-width="1.0" />
<line x1="714.0" y1="97.8" x2="714.0" y2="106.9" stroke="#ec1c24" stroke-width="1.0" />
<line x1="717.78" y1="88.8" x2="717.78" y2="97.8" stroke="#f7941d" stroke-width="1.0" />
<line x1="717.78" y1="97.8" x2="717.78" y2="106.9" stroke="#ec1c24" stroke-width="1.0" />
<line x1="607.5" y1="80.3" x2="607.5" y2="88.8" stroke="#f7941d" stroke-width="0.9" />
<line x1="607.5" y1="106.9" x2="607.5" y2="116" stroke="#ec1c24" stroke-width="0.9" />
<circle cx="607.5" cy="98.4" r="1.3" fill="#777a80" stroke="none" stroke-width="1" />
<line x1="630.4" y1="80.3" x2="630.4" y2="88.8" stroke="#f7941d" stroke-width="0.9" />
<line x1="630.4" y1="106.9" x2="630.4" y2="116" stroke="#ec1c24" stroke-width="0.9" />
<circle cx="630.4" cy="98.4" r="1.3" fill="#777a80" stroke="none" stroke-width="1" />
<line x1="653.3" y1="80.3" x2="653.3" y2="88.8" stroke="#f7941d" stroke-width="0.9" />
<line x1="653.3" y1="106.9" x2="653.3" y2="116" stroke="#ec1c24" stroke-width="0.9" />
<circle cx="653.3" cy="98.4" r="1.3" fill="#777a80" stroke="none" stroke-width="1" />
<line x1="676.2" y1="80.3" x2="676.2" y2="88.8" stroke="#f7941d" stroke-width="0.9" />
<line x1="676.2" y1="106.9" x2="676.2" y2="116" stroke="#ec1c24" stroke-width="0.9" />
<circle cx="676.2" cy="98.4" r="1.3" fill="#777a80" stroke="none" stroke-width="1" />
<line x1="699.1" y1="80.3" x2="699.1" y2="88.8" stroke="#f7941d" stroke-width="0.9" />
<line x1="699.1" y1="106.9" x2="699.1" y2="116" stroke="#ec1c24" stroke-width="0.9" />
<circle cx="699.1" cy="98.4" r="1.3" fill="#777a80" stroke="none" stroke-width="1" />
<path d="M584.8,106.4 L584.8,120" stroke="#141414" stroke-width="1.9" fill="none" />
<path d="M591.3,120 L591.3,107 L598.6,107" stroke="#141414" stroke-width="1.9" fill="none" />
<circle cx="588" cy="125.5" r="6.1" fill="none" stroke="#141414" stroke-width="1.9" />
<path d="M720.6,116.2 L720.6,106.8 L737,106.8" stroke="#141414" stroke-width="1.8" fill="none" />
<path d="M719.50,61.60 L728.66,78.13 A18.9,18.9 0 1 1 738.40,61.60 Z" stroke="#7d4a96" stroke-width="0.8" fill="url(#purpG)" />
<text x="719.6" y="54.5" font-size="8.2" font-weight="normal" fill="#ffffff" text-anchor="middle" stroke="#ffffff" stroke-width="0.32" >Cas3</text>
<path d="M720,62.6 L728.7,70 L757.7,70 L760.8,74.5 L757.7,79.5 L728.7,79.5 L719.6,88.6" stroke="#7d8085" stroke-width="1.8" fill="none" stroke-linejoin="round"/>
<rect x="728" y="68.1" width="7.6" height="3.8" fill="#27aae1" />
<rect x="728" y="77.6" width="7.6" height="4" fill="#27aae1" />
<text x="740.9" y="64.4" font-size="7.6" font-weight="bold" fill="#27aae1" text-anchor="start" >PAM</text>
<text x="687" y="43" font-size="8.0" font-weight="normal" fill="#262322" text-anchor="start" stroke="#262322" stroke-width="0.32" >Cut</text>
<g transform="translate(694.4,46.5) rotate(90.00)"><line x1="0" y1="0" x2="9.5" y2="0" stroke="#1a1a1a" stroke-width="0.9"/><polygon points="9.0,-1.5 13.0,0 9.0,1.5" fill="#1a1a1a"/></g>
<text x="570.4" y="94" font-size="8.0" font-weight="bold" fill="#f7941d" text-anchor="start" >Target</text>
<text x="567.5" y="109.6" font-size="8.2" font-weight="bold" fill="#262322" text-anchor="start" >3′</text>
<text x="745" y="108.7" font-size="8.2" font-weight="bold" fill="#262322" text-anchor="start" >5′</text>
<text x="699.4" y="133.4" font-size="8.2" font-weight="bold" fill="#ec1c24" text-anchor="start" >crRNA</text>
<ellipse cx="662" cy="204.8" rx="56" ry="15.8" fill="url(#cas9G)" stroke="#64abb8" stroke-width="0.6" />
<ellipse cx="662.3" cy="173" rx="56.3" ry="17.2" fill="url(#cas9G)" stroke="#64abb8" stroke-width="0.6" />
<polygon points="606,189 614,190.5 606,193" fill="#fcefdc" stroke="none" stroke-width="1" />
<path d="M601.5,175 L611,175" stroke="#7d8085" stroke-width="1.8" fill="none" />
<path d="M601.5,184.3 L611,184.3" stroke="#7d8085" stroke-width="1.8" fill="none" />
<rect x="611" y="172.8" width="8.6" height="4.6" fill="#27aae1" />
<rect x="611" y="182.2" width="8.6" height="4.6" fill="#27aae1" />
<path d="M619.6,175 L622,166.2 L711,166.2 L722.7,172.7 L757.5,172.7 L761.5,177.8 L757.5,182.8 L722.7,182.8 L710,191.4" stroke="#7d8085" stroke-width="1.8" fill="none" stroke-linejoin="round"/>
<path d="M619.6,184.3 L622.8,191.7" stroke="#7d8085" stroke-width="1.8" fill="none" />
<line x1="622.8" y1="191.7" x2="710" y2="191.7" stroke="#f7941d" stroke-width="1.5" />
<line x1="622.8" y1="208.7" x2="711" y2="208.7" stroke="#17a04a" stroke-width="1.6" />
<line x1="625.0" y1="191.7" x2="625.0" y2="200" stroke="#f7941d" stroke-width="0.9" />
<line x1="625.0" y1="200" x2="625.0" y2="208.7" stroke="#17a04a" stroke-width="0.9" />
<line x1="629.4" y1="191.7" x2="629.4" y2="200" stroke="#f7941d" stroke-width="0.9" />
<line x1="629.4" y1="200" x2="629.4" y2="208.7" stroke="#17a04a" stroke-width="0.9" />
<line x1="633.8" y1="191.7" x2="633.8" y2="200" stroke="#f7941d" stroke-width="0.9" />
<line x1="633.8" y1="200" x2="633.8" y2="208.7" stroke="#17a04a" stroke-width="0.9" />
<line x1="638.2" y1="191.7" x2="638.2" y2="200" stroke="#f7941d" stroke-width="0.9" />
<line x1="638.2" y1="200" x2="638.2" y2="208.7" stroke="#17a04a" stroke-width="0.9" />
<line x1="642.6" y1="191.7" x2="642.6" y2="200" stroke="#f7941d" stroke-width="0.9" />
<line x1="642.6" y1="200" x2="642.6" y2="208.7" stroke="#17a04a" stroke-width="0.9" />
<line x1="647.0" y1="191.7" x2="647.0" y2="200" stroke="#f7941d" stroke-width="0.9" />
<line x1="647.0" y1="200" x2="647.0" y2="208.7" stroke="#17a04a" stroke-width="0.9" />
<line x1="651.4" y1="191.7" x2="651.4" y2="200" stroke="#f7941d" stroke-width="0.9" />
<line x1="651.4" y1="200" x2="651.4" y2="208.7" stroke="#17a04a" stroke-width="0.9" />
<line x1="655.8" y1="191.7" x2="655.8" y2="200" stroke="#f7941d" stroke-width="0.9" />
<line x1="655.8" y1="200" x2="655.8" y2="208.7" stroke="#17a04a" stroke-width="0.9" />
<line x1="660.2" y1="191.7" x2="660.2" y2="200" stroke="#f7941d" stroke-width="0.9" />
<line x1="660.2" y1="200" x2="660.2" y2="208.7" stroke="#17a04a" stroke-width="0.9" />
<line x1="664.6" y1="191.7" x2="664.6" y2="200" stroke="#f7941d" stroke-width="0.9" />
<line x1="664.6" y1="200" x2="664.6" y2="208.7" stroke="#17a04a" stroke-width="0.9" />
<line x1="669.0" y1="191.7" x2="669.0" y2="200" stroke="#f7941d" stroke-width="0.9" />
<line x1="669.0" y1="200" x2="669.0" y2="208.7" stroke="#17a04a" stroke-width="0.9" />
<line x1="673.4" y1="191.7" x2="673.4" y2="200" stroke="#f7941d" stroke-width="0.9" />
<line x1="673.4" y1="200" x2="673.4" y2="208.7" stroke="#17a04a" stroke-width="0.9" />
<line x1="677.8" y1="191.7" x2="677.8" y2="200" stroke="#f7941d" stroke-width="0.9" />
<line x1="677.8" y1="200" x2="677.8" y2="208.7" stroke="#17a04a" stroke-width="0.9" />
<line x1="682.2" y1="191.7" x2="682.2" y2="200" stroke="#f7941d" stroke-width="0.9" />
<line x1="682.2" y1="200" x2="682.2" y2="208.7" stroke="#17a04a" stroke-width="0.9" />
<line x1="686.6" y1="191.7" x2="686.6" y2="200" stroke="#f7941d" stroke-width="0.9" />
<line x1="686.6" y1="200" x2="686.6" y2="208.7" stroke="#17a04a" stroke-width="0.9" />
<line x1="691.0" y1="191.7" x2="691.0" y2="200" stroke="#f7941d" stroke-width="0.9" />
<line x1="691.0" y1="200" x2="691.0" y2="208.7" stroke="#17a04a" stroke-width="0.9" />
<line x1="695.4" y1="191.7" x2="695.4" y2="200" stroke="#f7941d" stroke-width="0.9" />
<line x1="695.4" y1="200" x2="695.4" y2="208.7" stroke="#17a04a" stroke-width="0.9" />
<line x1="699.8" y1="191.7" x2="699.8" y2="200" stroke="#f7941d" stroke-width="0.9" />
<line x1="699.8" y1="200" x2="699.8" y2="208.7" stroke="#17a04a" stroke-width="0.9" />
<line x1="704.2" y1="191.7" x2="704.2" y2="200" stroke="#f7941d" stroke-width="0.9" />
<line x1="704.2" y1="200" x2="704.2" y2="208.7" stroke="#17a04a" stroke-width="0.9" />
<line x1="708.6" y1="191.7" x2="708.6" y2="200" stroke="#f7941d" stroke-width="0.9" />
<line x1="708.6" y1="200" x2="708.6" y2="208.7" stroke="#17a04a" stroke-width="0.9" />
<line x1="605.7" y1="216" x2="622.8" y2="209" stroke="#141414" stroke-width="1.8" />
<path d="M648.5,167 L648.5,184 Q648.5,190 642,194 Q636,199 634.2,209 Q632.5,217 622,219.8 L609,222.5" stroke="#2b3a94" stroke-width="1.8" fill="none" />
<circle cx="652.2" cy="163.2" r="4.6" fill="none" stroke="#2b3a94" stroke-width="1.8" />
<path d="M655.8,166.5 L655.8,181" stroke="#2b3a94" stroke-width="1.8" fill="none" />
<text x="629" y="145" font-size="8.0" font-weight="normal" fill="#262322" text-anchor="start" stroke="#262322" stroke-width="0.32" >Cut</text>
<g transform="translate(636,148) rotate(90.00)"><line x1="0" y1="0" x2="13.5" y2="0" stroke="#1a1a1a" stroke-width="0.9"/><polygon points="13.0,-1.5 17.0,0 13.0,1.5" fill="#1a1a1a"/></g>
<text x="629" y="231.7" font-size="8.0" font-weight="normal" fill="#262322" text-anchor="start" stroke="#262322" stroke-width="0.32" >Cut</text>
<g transform="translate(636,222) rotate(-90.00)"><line x1="0" y1="0" x2="21.5" y2="0" stroke="#1a1a1a" stroke-width="0.9"/><polygon points="21.0,-1.5 25.0,0 21.0,1.5" fill="#1a1a1a"/></g>
<text x="602.5" y="159.4" font-size="8.6" font-weight="bold" fill="#27aae1" text-anchor="start" >PAM</text>
<text x="570.6" y="177" font-size="8.1" font-weight="normal" fill="#8c8c8c" text-anchor="start" stroke="#8c8c8c" stroke-width="0.32" >dsDNA</text>
<text x="592.8" y="215" font-size="8.2" font-weight="bold" fill="#262322" text-anchor="start" >3′</text>
<text x="694" y="226.8" font-size="8.2" font-weight="bold" fill="#17a04a" text-anchor="start" >crRNA</text>
<text x="722.7" y="195" font-size="8.0" font-weight="bold" fill="#f7941d" text-anchor="start" >Target</text>
<text x="720.6" y="215.4" font-size="8.2" font-weight="bold" fill="#262322" text-anchor="start" >5′</text>
<text x="572.5" y="253" font-size="8.1" font-weight="normal" fill="#8c8c8c" text-anchor="start" stroke="#8c8c8c" stroke-width="0.32" >dsDNA</text>
<path d="M589,259 L596,259 L610.7,250 L700,250 L720.6,259.1 L757,259.1 L761.2,264.5 L757,269.9 L744.4,269.9 M742,269.9 L729.3,269.9 M725.8,269.9 L720.6,269.9 L709,278" stroke="#7d8085" stroke-width="1.8" fill="none" stroke-linejoin="round"/>
<path d="M589,268.8 L596,268.8 L610.7,278 L710,278" stroke="#7d8085" stroke-width="1.8" fill="none" stroke-linejoin="round"/>
<rect x="590.8" y="308.3" width="22.6" height="30.9" fill="#bab7b0" rx="2"/>
<line x1="590.8" y1="331" x2="613.4" y2="331" stroke="#a8a59e" stroke-width="0.6" />
<rect x="614.3499999999999" y="308.3" width="22.6" height="30.9" fill="#bab7b0" rx="2"/>
<line x1="614.3499999999999" y1="331" x2="636.9499999999999" y2="331" stroke="#a8a59e" stroke-width="0.6" />
<rect x="637.9" y="308.3" width="22.6" height="30.9" fill="#bab7b0" rx="2"/>
<line x1="637.9" y1="331" x2="660.5" y2="331" stroke="#a8a59e" stroke-width="0.6" />
<rect x="661.4499999999999" y="308.3" width="22.6" height="30.9" fill="#bab7b0" rx="2"/>
<line x1="661.4499999999999" y1="331" x2="684.05" y2="331" stroke="#a8a59e" stroke-width="0.6" />
<rect x="685.0" y="308.3" width="22.6" height="30.9" fill="#bab7b0" rx="2"/>
<line x1="685.0" y1="331" x2="707.6" y2="331" stroke="#a8a59e" stroke-width="0.6" />
<polygon points="677,308.6 695.7,308.6 695.7,330" fill="#b070b2" stroke="none" stroke-width="0" opacity="0.55"/>
<rect x="695.7" y="308.6" width="20.3" height="30.9" fill="#a45ea6" rx="2"/>
<polygon points="697.5,330.5 697.5,339.5 712,339.5" fill="#b5a383" stroke="none" stroke-width="1" />
<ellipse cx="623.2" cy="300.2" rx="16" ry="9.5" fill="#cfa6d3" stroke="none" stroke-width="0" opacity="0.95"/>
<ellipse cx="659.8" cy="300.2" rx="16.5" ry="9.5" fill="#cfa6d3" stroke="none" stroke-width="0" opacity="0.95"/>
<ellipse cx="641.5" cy="303.5" rx="6.5" ry="5.5" fill="#cfa6d3" stroke="none" stroke-width="1" />
<line x1="600.8" y1="311.2" x2="697.7" y2="311.2" stroke="#f7941d" stroke-width="1.5" />
<line x1="593" y1="329.7" x2="716" y2="329.7" stroke="#e35ea8" stroke-width="1.6" />
<line x1="602.4" y1="311.2" x2="602.4" y2="320" stroke="#f7941d" stroke-width="1.0" />
<line x1="602.4" y1="320" x2="602.4" y2="329.7" stroke="#e35ea8" stroke-width="1.0" />
<line x1="606.4" y1="311.2" x2="606.4" y2="320" stroke="#f7941d" stroke-width="1.0" />
<line x1="606.4" y1="320" x2="606.4" y2="329.7" stroke="#e35ea8" stroke-width="1.0" />
<line x1="610.4" y1="311.2" x2="610.4" y2="320" stroke="#f7941d" stroke-width="1.0" />
<line x1="610.4" y1="320" x2="610.4" y2="329.7" stroke="#e35ea8" stroke-width="1.0" />
<line x1="614.4" y1="311.2" x2="614.4" y2="320" stroke="#f7941d" stroke-width="1.0" />
<line x1="614.4" y1="320" x2="614.4" y2="329.7" stroke="#e35ea8" stroke-width="1.0" />
<line x1="618.4" y1="311.2" x2="618.4" y2="320" stroke="#f7941d" stroke-width="1.0" />
<line x1="618.4" y1="320" x2="618.4" y2="329.7" stroke="#e35ea8" stroke-width="1.0" />
<line x1="622.4" y1="311.2" x2="622.4" y2="320" stroke="#f7941d" stroke-width="1.0" />
<line x1="622.4" y1="320" x2="622.4" y2="329.7" stroke="#e35ea8" stroke-width="1.0" />
<line x1="626.4" y1="311.2" x2="626.4" y2="320" stroke="#f7941d" stroke-width="1.0" />
<line x1="626.4" y1="320" x2="626.4" y2="329.7" stroke="#e35ea8" stroke-width="1.0" />
<line x1="630.4" y1="311.2" x2="630.4" y2="320" stroke="#f7941d" stroke-width="1.0" />
<line x1="630.4" y1="320" x2="630.4" y2="329.7" stroke="#e35ea8" stroke-width="1.0" />
<line x1="634.4" y1="311.2" x2="634.4" y2="320" stroke="#f7941d" stroke-width="1.0" />
<line x1="634.4" y1="320" x2="634.4" y2="329.7" stroke="#e35ea8" stroke-width="1.0" />
<line x1="638.4" y1="311.2" x2="638.4" y2="320" stroke="#f7941d" stroke-width="1.0" />
<line x1="638.4" y1="320" x2="638.4" y2="329.7" stroke="#e35ea8" stroke-width="1.0" />
<line x1="642.4" y1="311.2" x2="642.4" y2="320" stroke="#f7941d" stroke-width="1.0" />
<line x1="642.4" y1="320" x2="642.4" y2="329.7" stroke="#e35ea8" stroke-width="1.0" />
<line x1="646.4" y1="311.2" x2="646.4" y2="320" stroke="#f7941d" stroke-width="1.0" />
<line x1="646.4" y1="320" x2="646.4" y2="329.7" stroke="#e35ea8" stroke-width="1.0" />
<line x1="650.4" y1="311.2" x2="650.4" y2="320" stroke="#f7941d" stroke-width="1.0" />
<line x1="650.4" y1="320" x2="650.4" y2="329.7" stroke="#e35ea8" stroke-width="1.0" />
<line x1="654.4" y1="311.2" x2="654.4" y2="320" stroke="#f7941d" stroke-width="1.0" />
<line x1="654.4" y1="320" x2="654.4" y2="329.7" stroke="#e35ea8" stroke-width="1.0" />
<line x1="658.4" y1="311.2" x2="658.4" y2="320" stroke="#f7941d" stroke-width="1.0" />
<line x1="658.4" y1="320" x2="658.4" y2="329.7" stroke="#e35ea8" stroke-width="1.0" />
<line x1="662.4" y1="311.2" x2="662.4" y2="320" stroke="#f7941d" stroke-width="1.0" />
<line x1="662.4" y1="320" x2="662.4" y2="329.7" stroke="#e35ea8" stroke-width="1.0" />
<line x1="666.4" y1="311.2" x2="666.4" y2="320" stroke="#f7941d" stroke-width="1.0" />
<line x1="666.4" y1="320" x2="666.4" y2="329.7" stroke="#e35ea8" stroke-width="1.0" />
<line x1="670.4" y1="311.2" x2="670.4" y2="320" stroke="#f7941d" stroke-width="1.0" />
<line x1="670.4" y1="320" x2="670.4" y2="329.7" stroke="#e35ea8" stroke-width="1.0" />
<line x1="674.4" y1="311.2" x2="674.4" y2="320" stroke="#f7941d" stroke-width="1.0" />
<line x1="674.4" y1="320" x2="674.4" y2="329.7" stroke="#e35ea8" stroke-width="1.0" />
<line x1="678.4" y1="311.2" x2="678.4" y2="320" stroke="#f7941d" stroke-width="1.0" />
<line x1="678.4" y1="320" x2="678.4" y2="329.7" stroke="#e35ea8" stroke-width="1.0" />
<line x1="682.4" y1="311.2" x2="682.4" y2="320" stroke="#f7941d" stroke-width="1.0" />
<line x1="682.4" y1="320" x2="682.4" y2="329.7" stroke="#e35ea8" stroke-width="1.0" />
<line x1="686.4" y1="311.2" x2="686.4" y2="320" stroke="#f7941d" stroke-width="1.0" />
<line x1="686.4" y1="320" x2="686.4" y2="329.7" stroke="#e35ea8" stroke-width="1.0" />
<line x1="690.4" y1="311.2" x2="690.4" y2="320" stroke="#f7941d" stroke-width="1.0" />
<line x1="690.4" y1="320" x2="690.4" y2="329.7" stroke="#e35ea8" stroke-width="1.0" />
<line x1="626.5" y1="305" x2="626.5" y2="311.2" stroke="#f7941d" stroke-width="1.0" />
<line x1="626.5" y1="329.7" x2="626.5" y2="339" stroke="#e35ea8" stroke-width="1.0" />
<circle cx="626.5" cy="320.7" r="1.4" fill="#777a80" stroke="none" stroke-width="1" />
<line x1="650.05" y1="305" x2="650.05" y2="311.2" stroke="#f7941d" stroke-width="1.0" />
<line x1="650.05" y1="329.7" x2="650.05" y2="339" stroke="#e35ea8" stroke-width="1.0" />
<circle cx="650.05" cy="320.7" r="1.4" fill="#777a80" stroke="none" stroke-width="1" />
<line x1="673.6" y1="305" x2="673.6" y2="311.2" stroke="#f7941d" stroke-width="1.0" />
<line x1="673.6" y1="329.7" x2="673.6" y2="339" stroke="#e35ea8" stroke-width="1.0" />
<circle cx="673.6" cy="320.7" r="1.4" fill="#777a80" stroke="none" stroke-width="1" />
<path d="M697.5,339.4 L697.5,329.9 L715.3,329.9" stroke="#141414" stroke-width="1.8" fill="none" />
<path d="M718.3,260.3 C712,268 709,275 708.5,285 C708,298 706,306 697.7,311.2" stroke="#f7941d" stroke-width="1.3" fill="none" stroke-dasharray="1.4 1.2"/>
<circle cx="703.8" cy="263.8" r="16.3" fill="url(#rnapG)" stroke="#e62e2e" stroke-width="1.3" fill-opacity="0.82"/>
<text x="703.5" y="267.2" font-size="8.0" font-weight="normal" fill="#262322" text-anchor="middle" stroke="#262322" stroke-width="0.32" >RNAP</text>
<text x="647" y="261.7" font-size="8.4" font-weight="normal" fill="#262322" text-anchor="middle" stroke="#262322" stroke-width="0.32" >Transcription</text>
<text x="647.2" y="270.7" font-size="8.4" font-weight="normal" fill="#262322" text-anchor="middle" stroke="#262322" stroke-width="0.32" >Bubble</text>
<g transform="translate(664,269.3) rotate(0.00)"><line x1="0" y1="0" x2="16.8" y2="0" stroke="#1a1a1a" stroke-width="0.9"/><polygon points="16.3,-1.5 20.5,0 16.3,1.5" fill="#1a1a1a"/></g>
<text x="585" y="293" font-size="8.0" font-weight="bold" fill="#f5a040" text-anchor="start" >mRNA</text>
<text x="585" y="301.4" font-size="8.0" font-weight="bold" fill="#f5a040" text-anchor="start" >target</text>
<text x="637.3" y="290" font-size="8.0" font-weight="normal" fill="#262322" text-anchor="start" stroke="#262322" stroke-width="0.32" >Cut</text>
<g transform="translate(642.3,292.5) rotate(129.35)"><line x1="0" y1="0" x2="16.098195792392623" y2="0" stroke="#1a1a1a" stroke-width="1.0"/><polygon points="15.598195792392623,-1.6 19.398195792392624,0 15.598195792392623,1.6" fill="#1a1a1a"/></g>
<text x="659" y="290" font-size="8.0" font-weight="normal" fill="#262322" text-anchor="start" stroke="#262322" stroke-width="0.32" >Cut</text>
<g transform="translate(664,292.5) rotate(126.25)"><line x1="0" y1="0" x2="15.301075237738274" y2="0" stroke="#1a1a1a" stroke-width="1.0"/><polygon points="14.801075237738274,-1.6 18.601075237738275,0 14.801075237738274,1.6" fill="#1a1a1a"/></g>
<text x="680.3" y="290" font-size="8.0" font-weight="normal" fill="#262322" text-anchor="start" stroke="#262322" stroke-width="0.32" >Cut</text>
<g transform="translate(685.3,292.5) rotate(121.80)"><line x1="0" y1="0" x2="14.349079296099248" y2="0" stroke="#1a1a1a" stroke-width="1.0"/><polygon points="13.849079296099248,-1.6 17.64907929609925,0 13.849079296099248,1.6" fill="#1a1a1a"/></g>
<text x="592.6" y="334" font-size="8.2" font-weight="bold" fill="#262322" text-anchor="start" >3′</text>
<text x="679.6" y="349.7" font-size="8.2" font-weight="normal" fill="#e0439e" text-anchor="start" stroke="#e0439e" stroke-width="0.32" >crRNA</text>
<text x="724" y="332" font-size="8.2" font-weight="bold" fill="#262322" text-anchor="start" >5′</text>
<text x="723.5" y="297.4" font-size="8.0" font-weight="normal" fill="#262322" text-anchor="middle" stroke="#262322" stroke-width="0.32" >Cut</text>
<text x="744.5" y="297.4" font-size="8.0" font-weight="normal" fill="#262322" text-anchor="middle" stroke="#262322" stroke-width="0.32" >Cut</text>
<g transform="translate(727,289) rotate(-90.00)"><line x1="0" y1="0" x2="13.699999999999989" y2="0" stroke="#1a1a1a" stroke-width="0.9"/><polygon points="13.199999999999989,-1.5 17.19999999999999,0 13.199999999999989,1.5" fill="#1a1a1a"/></g>
<g transform="translate(742.6,289) rotate(-90.00)"><line x1="0" y1="0" x2="13.699999999999989" y2="0" stroke="#1a1a1a" stroke-width="0.9"/><polygon points="13.199999999999989,-1.5 17.19999999999999,0 13.199999999999989,1.5" fill="#1a1a1a"/></g>
<g transform="translate(46.7,135.5)"><g stroke="#2a2626" stroke-width="0.8" fill="none"><polyline points="0,-27 -18,-12.5 0,-1.5"/><polyline points="0,-21 -13,-11.875 0,-4"/><polyline points="0,-17 -8,-11.25 0,-7"/><polyline points="0,27 -18,12.5 0,1.5"/><polyline points="0,21 -13,11.875 0,4"/><polyline points="0,17 -8,11.25 0,7"/></g><rect x="-18.5" y="-3.1" width="19" height="6.2" rx="2.2" fill="url(#hatch)"/><polygon points="-17.71,1.76 -24.48,11.73 -35.37,9.97 -39.49,-1.76 -32.72,-11.73 -21.83,-9.97" fill="url(#phHead)" stroke="#d01a1a" stroke-width="1.2" stroke-linejoin="round"/></g>
<g transform="translate(761,75.2) scale(-1,1) scale(0.85)"><g stroke="#2a2626" stroke-width="0.8" fill="none"><polyline points="0,-27 -18,-12.5 0,-1.5"/><polyline points="0,-21 -13,-11.875 0,-4"/><polyline points="0,-17 -8,-11.25 0,-7"/><polyline points="0,27 -18,12.5 0,1.5"/><polyline points="0,21 -13,11.875 0,4"/><polyline points="0,17 -8,11.25 0,7"/></g><rect x="-18.5" y="-3.1" width="19" height="6.2" rx="2.2" fill="url(#hatch)"/><polygon points="-17.71,1.76 -24.48,11.73 -35.37,9.97 -39.49,-1.76 -32.72,-11.73 -21.83,-9.97" fill="url(#phHead)" stroke="#d01a1a" stroke-width="1.2" stroke-linejoin="round"/></g>
<g transform="translate(761,178.7) scale(-1,1) scale(0.85)"><g stroke="#2a2626" stroke-width="0.8" fill="none"><polyline points="0,-27 -18,-12.5 0,-1.5"/><polyline points="0,-21 -13,-11.875 0,-4"/><polyline points="0,-17 -8,-11.25 0,-7"/><polyline points="0,27 -18,12.5 0,1.5"/><polyline points="0,21 -13,11.875 0,4"/><polyline points="0,17 -8,11.25 0,7"/></g><rect x="-18.5" y="-3.1" width="19" height="6.2" rx="2.2" fill="url(#hatch)"/><polygon points="-17.71,1.76 -24.48,11.73 -35.37,9.97 -39.49,-1.76 -32.72,-11.73 -21.83,-9.97" fill="url(#phHead)" stroke="#d01a1a" stroke-width="1.2" stroke-linejoin="round"/></g>
<g transform="translate(761,264.3) scale(-1,1) scale(0.85)"><g stroke="#2a2626" stroke-width="0.8" fill="none"><polyline points="0,-27 -18,-12.5 0,-1.5"/><polyline points="0,-21 -13,-11.875 0,-4"/><polyline points="0,-17 -8,-11.25 0,-7"/><polyline points="0,27 -18,12.5 0,1.5"/><polyline points="0,21 -13,11.875 0,4"/><polyline points="0,17 -8,11.25 0,7"/></g><rect x="-18.5" y="-3.1" width="19" height="6.2" rx="2.2" fill="url(#hatch)"/><polygon points="-17.71,1.76 -24.48,11.73 -35.37,9.97 -39.49,-1.76 -32.72,-11.73 -21.83,-9.97" fill="url(#phHead)" stroke="#d01a1a" stroke-width="1.2" stroke-linejoin="round"/></g></svg>
</body></html>
